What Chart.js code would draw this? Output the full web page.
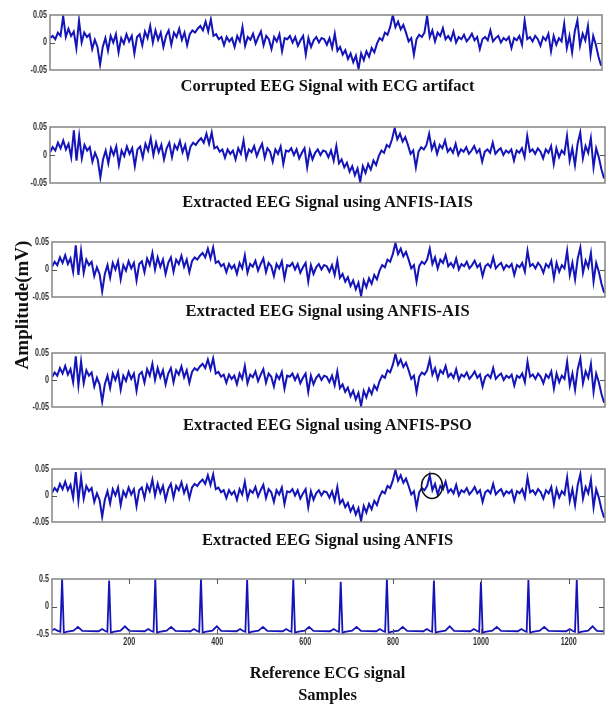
<!DOCTYPE html>
<html>
<head>
<meta charset="utf-8">
<script src="https://cdn.jsdelivr.net/npm/chart.js@4.4.1/dist/chart.umd.min.js"></script>
<style>
  body { margin: 0; background: #fff; width: 614px; height: 707px; position: relative; overflow: hidden; }
  canvas { position: absolute; left: 0; }
  .title { position: absolute; left: 50px; width: 555px; text-align: center;
           font: bold 16.5px "Liberation Serif", "Times New Roman", serif; color: #111; line-height: 18px; }
  #ylab { position: absolute; left: -78px; top: 295px; width: 200px; height: 20px; text-align: center;
          font: bold 19px "Liberation Serif", "Times New Roman", serif; color: #111; line-height: 20px;
          transform: rotate(-90deg); z-index: 5; }
</style>
</head>
<body>
<div id="ylab">Amplitude(mV)</div>
<script>
// samples axis
const sampleMin = 24;
const sampleMax = 1280;
const sampleTicks = [200, 400, 600, 800, 1000, 1200];
const eegStart = 24;
const eegStep = 6;

const eegTicks = [-0.05, 0, 0.05];
const ecgTicks = [-0.5, 0, 0.5];

// EEG contaminated by the ECG artifact (one value every 6 samples)
const eegCorrupted = [
  0.008, 0.012, 0.006, 0.018, 0.012, 0.048, 0.01, 0.025, 0.012, 0.02,
  -0.01, 0.04, 0.0, 0.018, 0.01, 0.015, -0.012, 0.005, -0.008, -0.04,
  -0.008, 0.008, -0.015, 0.012, 0.0, 0.015, -0.018, 0.008, -0.002, 0.015,
  0.002, 0.012, -0.02, 0.01, 0.015, -0.005, 0.02, 0.008, 0.03, 0.0,
  0.022, 0.005, 0.018, -0.008, 0.012, 0.022, -0.004, 0.018, 0.01, 0.025,
  0.005, 0.018, -0.005, 0.015, 0.022, 0.018, 0.025, 0.03, 0.022, 0.038,
  0.02, 0.042, 0.012, 0.015, 0.006, 0.01, -0.005, 0.01, 0.002, 0.008,
  -0.008, 0.012, 0.002, 0.028, -0.006, 0.01, 0.005, 0.016, -0.002, 0.01,
  0.02, -0.005, 0.012, 0.006, -0.012, 0.01, 0.002, 0.015, -0.016, 0.008,
  0.006, 0.012, 0.0, 0.01, -0.006, 0.004, 0.012, -0.022, 0.008, -0.008,
  0.004, 0.01, 0.0, 0.008, 0.006, -0.004, 0.008, -0.01, 0.016, -0.015,
  -0.008, -0.022, -0.014, -0.03, -0.02, -0.036, -0.024, -0.048, -0.02, -0.032,
  -0.016, -0.026, -0.01, -0.018, -0.002, 0.008, 0.004, 0.018, 0.014, 0.028,
  0.05, 0.028, 0.038, 0.024, 0.032, 0.018, 0.002, 0.008, -0.022, 0.006,
  0.014, 0.01, 0.018, 0.048, 0.01, 0.022, 0.002, 0.018, 0.012, 0.026,
  0.006, 0.012, 0.004, 0.02, 0.0, 0.01, 0.006, 0.014, 0.002, 0.008,
  0.016, 0.004, 0.01, -0.012, 0.006, 0.01, 0.004, 0.022, 0.002, 0.008,
  0.012, 0.0, 0.008, 0.004, 0.01, -0.01, 0.008, 0.004, 0.012, -0.004,
  0.04, 0.006, 0.01, 0.002, 0.012, 0.006, -0.006, 0.01, 0.004, 0.016,
  -0.016, 0.012, -0.004, 0.008, 0.002, 0.034, -0.01, 0.012, -0.018, 0.02,
  0.04, -0.006, 0.016, 0.004, 0.03, -0.022, 0.012, -0.004, -0.026, -0.042
];

// EEG after artifact removal (visually the same for the four methods)
const eegExtracted = [
  0.005, 0.014, 0.008, 0.022, 0.012, 0.026, 0.01, 0.02, -0.004, 0.044,
  -0.01, 0.034, -0.006, 0.018, 0.008, 0.014, -0.012, 0.004, -0.008, -0.04,
  -0.008, 0.008, -0.015, 0.012, 0.0, 0.015, -0.018, 0.008, -0.002, 0.015,
  0.002, 0.012, -0.02, 0.01, 0.015, -0.005, 0.02, 0.008, 0.03, 0.0,
  0.022, 0.005, 0.018, -0.008, 0.012, 0.022, -0.004, 0.018, 0.01, 0.025,
  0.005, 0.018, -0.005, 0.015, 0.022, 0.018, 0.025, 0.03, 0.022, 0.038,
  0.02, 0.04, 0.012, 0.015, 0.006, 0.01, -0.005, 0.01, 0.002, 0.008,
  -0.008, 0.012, 0.002, 0.026, -0.006, 0.01, 0.005, 0.016, -0.002, 0.01,
  0.02, -0.005, 0.012, 0.006, -0.012, 0.01, 0.002, 0.015, -0.016, 0.008,
  0.006, 0.012, 0.0, 0.01, -0.006, 0.004, 0.012, -0.022, 0.008, -0.008,
  0.004, 0.01, 0.0, 0.008, 0.006, -0.004, 0.008, -0.01, 0.016, -0.015,
  -0.008, -0.022, -0.014, -0.03, -0.02, -0.036, -0.024, -0.048, -0.02, -0.032,
  -0.016, -0.026, -0.01, -0.018, -0.002, 0.008, 0.004, 0.018, 0.014, 0.028,
  0.048, 0.028, 0.038, 0.024, 0.032, 0.018, 0.002, 0.008, -0.022, 0.006,
  0.014, 0.01, 0.018, 0.038, 0.01, 0.022, 0.002, 0.018, 0.012, 0.026,
  0.006, 0.012, 0.004, 0.02, 0.0, 0.01, 0.006, 0.014, 0.002, 0.008,
  0.016, 0.004, 0.01, -0.012, 0.006, 0.01, 0.004, 0.022, 0.002, 0.008,
  0.012, 0.0, 0.008, 0.004, 0.01, -0.01, 0.008, 0.004, 0.012, -0.004,
  0.034, 0.006, 0.01, 0.002, 0.012, 0.006, -0.006, 0.01, 0.004, 0.016,
  -0.016, 0.012, -0.004, 0.008, 0.002, 0.034, -0.01, 0.012, -0.018, 0.02,
  0.04, -0.006, 0.016, 0.004, 0.03, -0.022, 0.012, -0.004, -0.026, -0.042
];

// reference ECG (sample number, amplitude)
const ecgSamples = [
  24, 30, 36,
  43, 47, 51, 56, 73, 83, 93, 130, 138, 145,
  150, 154, 158, 163, 180, 190, 200, 235, 243, 250,
  255, 259, 263, 268, 285, 295, 305, 339, 347, 354,
  359, 363, 367, 372, 389, 399, 409, 444, 452, 459,
  464, 468, 472, 477, 494, 504, 514, 549, 557, 564,
  569, 573, 577, 582, 599, 609, 619, 657, 665, 672,
  677, 681, 685, 690, 707, 717, 727, 762, 770, 777,
  782, 786, 790, 795, 812, 822, 832, 869, 877, 884,
  889, 893, 897, 902, 919, 929, 939, 976, 984, 991,
  996, 1000, 1004, 1009, 1026, 1036, 1046, 1084, 1092, 1099,
  1104, 1108, 1112, 1117, 1134, 1144, 1154, 1194, 1202, 1209,
  1214, 1218, 1222, 1227, 1244, 1254, 1264, 1280
];
const ecgValues = [
  -0.43, -0.41, -0.44,
  -0.46, 0.5, -0.49, -0.46, -0.44, -0.37, -0.445, -0.45, -0.41, -0.445,
  -0.46, 0.47, -0.49, -0.46, -0.44, -0.36, -0.445, -0.45, -0.41, -0.445,
  -0.46, 0.5, -0.49, -0.46, -0.44, -0.37, -0.445, -0.45, -0.41, -0.445,
  -0.46, 0.5, -0.49, -0.46, -0.44, -0.36, -0.445, -0.45, -0.41, -0.445,
  -0.46, 0.48, -0.49, -0.46, -0.44, -0.37, -0.445, -0.45, -0.41, -0.445,
  -0.46, 0.5, -0.49, -0.46, -0.44, -0.37, -0.445, -0.45, -0.41, -0.445,
  -0.46, 0.45, -0.49, -0.46, -0.44, -0.37, -0.445, -0.45, -0.41, -0.445,
  -0.46, 0.5, -0.49, -0.46, -0.44, -0.37, -0.445, -0.45, -0.41, -0.445,
  -0.46, 0.47, -0.49, -0.46, -0.44, -0.36, -0.445, -0.45, -0.41, -0.445,
  -0.46, 0.45, -0.49, -0.46, -0.44, -0.37, -0.445, -0.45, -0.41, -0.445,
  -0.46, 0.48, -0.49, -0.46, -0.44, -0.37, -0.445, -0.45, -0.41, -0.445,
  -0.46, 0.48, -0.49, -0.46, -0.44, -0.36, -0.445, -0.45
];

const titles = [
  "Corrupted EEG Signal with ECG artifact",
  "Extracted EEG Signal using ANFIS-IAIS",
  "Extracted EEG Signal using ANFIS-AIS",
  "Extracted EEG Signal using ANFIS-PSO",
  "Extracted EEG Signal using ANFIS",
  "Reference ECG signal"
];
const xTitle = "Samples";

// circled region in the ANFIS panel
const markSample = 887;
const markValue = 0.018;

const lineBlue = "#1414b8";
const tickFontCss = "bold 10px 'Liberation Sans', Arial, sans-serif";

function eegPoints(arr) {
  return arr.map((v, i) => ({ x: eegStart + i * eegStep, y: v }));
}
const ecgPoints = ecgSamples.map((s, i) => ({ x: s, y: ecgValues[i] }));

// narrow MATLAB-like tick label
function narrowText(ctx, txt, x, y, align) {
  ctx.save();
  ctx.translate(x, y);
  ctx.scale(0.72, 1);
  ctx.textAlign = align;
  ctx.fillText(txt, 0, 0);
  ctx.restore();
}

const boxPlugin = {
  id: "box",
  afterDraw(chart) {
    const ctx = chart.ctx;
    const a = chart.chartArea;
    const xs = chart.scales.x, ys = chart.scales.y;
    ctx.save();
    ctx.strokeStyle = "#858585";
    ctx.lineWidth = 1.5;
    ctx.strokeRect(a.left, a.top, a.right - a.left, a.bottom - a.top);
    ctx.strokeStyle = "#555";
    ctx.lineWidth = 1;
    ctx.beginPath();
    const y0 = Math.round(ys.getPixelForValue(0)) + 0.5;
    ctx.moveTo(a.left, y0); ctx.lineTo(a.left + 5, y0);
    ctx.moveTo(a.right - 5, y0); ctx.lineTo(a.right, y0);
    const showX = chart.options.scales.x.display;
    if (showX) {
      sampleTicks.forEach(t => {
        const px = Math.round(xs.getPixelForValue(t)) + 0.5;
        ctx.moveTo(px, a.top); ctx.lineTo(px, a.top + 5);
        ctx.moveTo(px, a.bottom - 5); ctx.lineTo(px, a.bottom);
      });
    }
    ctx.stroke();

    // tick labels
    ctx.fillStyle = "#333";
    ctx.font = tickFontCss;
    ctx.textBaseline = "middle";
    ys.ticks.forEach(t => {
      narrowText(ctx, String(t.value), a.left - 3, ys.getPixelForValue(t.value), "right");
    });
    if (showX) {
      ctx.textBaseline = "top";
      sampleTicks.forEach(t => {
        narrowText(ctx, String(t), xs.getPixelForValue(t), a.bottom + 3, "center");
      });
    }

    const m = chart.options.plugins.mark;
    if (m && m.show) {
      ctx.strokeStyle = "#111";
      ctx.lineWidth = 1.5;
      ctx.beginPath();
      ctx.ellipse(xs.getPixelForValue(m.x), ys.getPixelForValue(m.y), 10.5, 12.5, 0, 0, Math.PI * 2);
      ctx.stroke();
    }
    ctx.restore();
  }
};

function makePanel(p) {
  const pad = 10;
  const xH = p.showX ? 22 : 0;
  const canvas = document.createElement("canvas");
  canvas.width = 614;
  canvas.height = (p.bottom - p.top) + 2 * pad + xH;
  canvas.style.top = (p.top - pad) + "px";
  document.body.appendChild(canvas);

  const t = document.createElement("div");
  t.className = "title";
  t.style.top = (p.titleY - 9) + "px";
  t.textContent = p.title;
  document.body.appendChild(t);

  new Chart(canvas, {
    type: "line",
    data: {
      datasets: [{
        data: p.points,
        borderColor: lineBlue,
        borderWidth: p.lw,
        pointRadius: 0,
        tension: 0,
        fill: false
      }]
    },
    options: {
      responsive: false,
      animation: false,
      events: [],
      layout: { padding: { top: pad, bottom: pad, left: 0, right: 614 - p.right } },
      plugins: {
        legend: { display: false },
        tooltip: { enabled: false },
        mark: { show: !!p.mark, x: markSample, y: markValue }
      },
      scales: {
        x: {
          type: "linear",
          min: sampleMin,
          max: sampleMax,
          display: !!p.showX,
          grid: { display: false },
          border: { display: false },
          afterBuildTicks: s => { s.ticks = sampleTicks.map(v => ({ value: v })); },
          afterFit: s => { s.height = xH; },
          ticks: { display: false }
        },
        y: {
          min: p.ticks[0],
          max: p.ticks[p.ticks.length - 1],
          grid: { display: false },
          border: { display: false },
          afterBuildTicks: s => { s.ticks = p.ticks.map(v => ({ value: v })); },
          afterFit: s => { s.width = p.left; },
          ticks: { display: false }
        }
      }
    },
    plugins: [boxPlugin]
  });
}

makePanel({ top: 15, bottom: 70, left: 50, right: 602, titleY: 86, title: titles[0], points: eegPoints(eegCorrupted), ticks: eegTicks, lw: 2 });
makePanel({ top: 127, bottom: 183, left: 50, right: 605, titleY: 202, title: titles[1], points: eegPoints(eegExtracted), ticks: eegTicks, lw: 2 });
makePanel({ top: 242, bottom: 297, left: 52, right: 605, titleY: 311, title: titles[2], points: eegPoints(eegExtracted), ticks: eegTicks, lw: 2 });
makePanel({ top: 353, bottom: 407, left: 52, right: 605, titleY: 425, title: titles[3], points: eegPoints(eegExtracted), ticks: eegTicks, lw: 2 });
makePanel({ top: 469, bottom: 522, left: 52, right: 605, titleY: 540, title: titles[4], points: eegPoints(eegExtracted), ticks: eegTicks, lw: 2, mark: true });
makePanel({ top: 579, bottom: 634, left: 52, right: 604, titleY: 673, title: titles[5], points: ecgPoints, ticks: ecgTicks, lw: 1.8, showX: true });

const s = document.createElement("div");
s.className = "title";
s.style.top = (695 - 9) + "px";
s.textContent = xTitle;
document.body.appendChild(s);
</script>
</body>
</html>
